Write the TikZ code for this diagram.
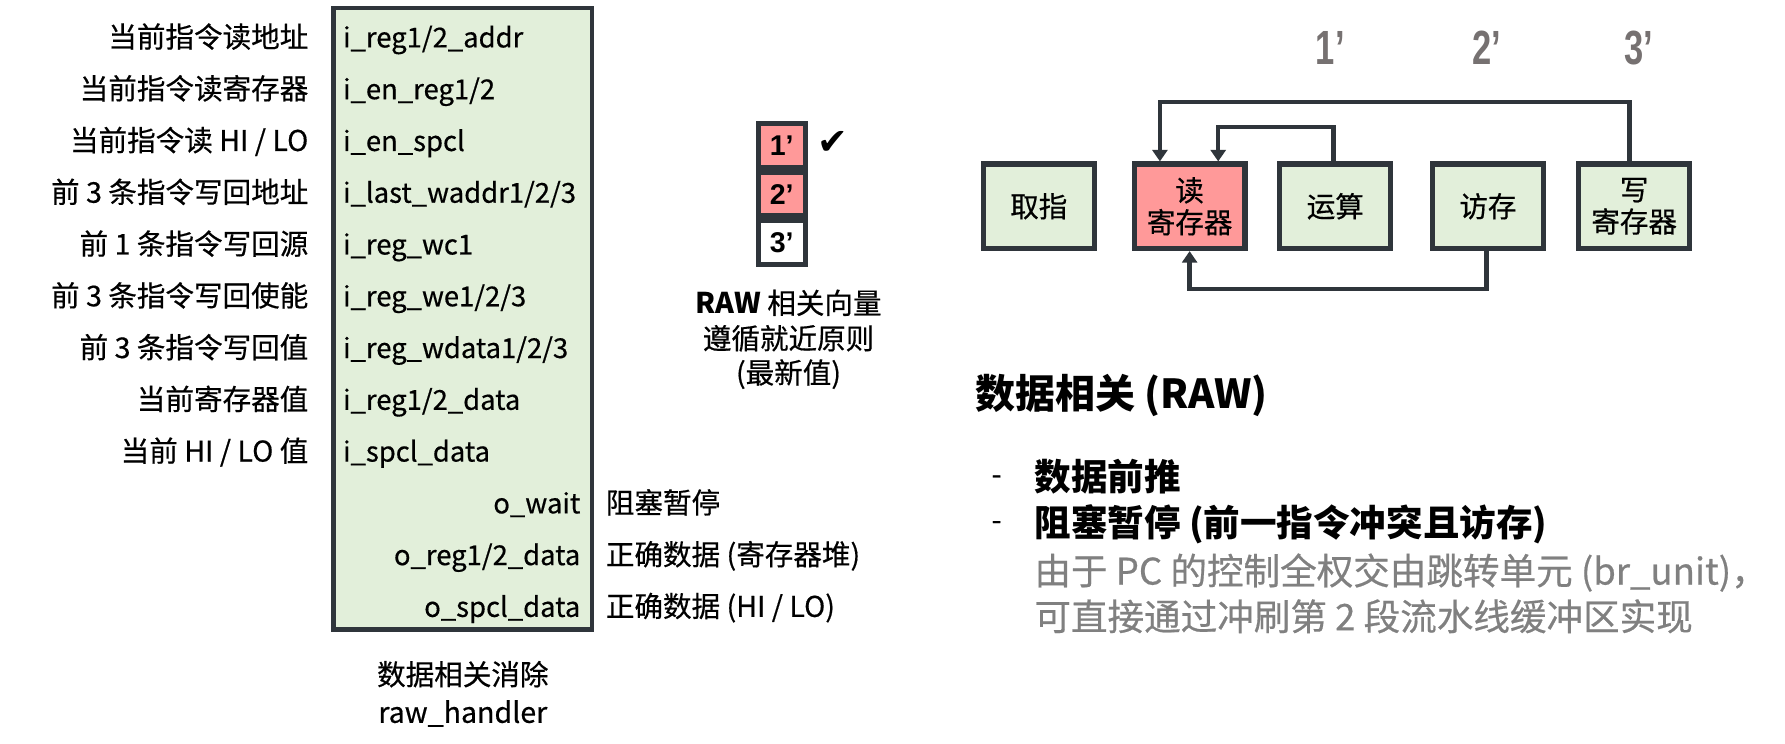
\documentclass[tikz,border=0pt]{standalone}
\usepackage{fontspec}
\usepackage{graphicx}
\setmainfont{Noto Sans CJK SC}[UprightFeatures={FakeBold=0.5}]
\newfontfamily\symfont{DejaVu Sans}
\newfontfamily\latfont{Liberation Sans}
\usetikzlibrary{arrows.meta}
\definecolor{edgec}{RGB}{47,53,59}
\definecolor{lgreen}{RGB}{226,239,218}
\definecolor{pinkc}{RGB}{255,153,153}
\definecolor{graytxt}{RGB}{128,128,128}
\definecolor{primec}{RGB}{118,113,113}
\newcommand\fsz[2]{\fontsize{#1}{#2}\selectfont}
\newcommand\pr[1]{{\latfont\bfseries #1’}}
\tikzset{
  lab/.style={inner sep=0pt, font=\fsz{25}{30}, text height=22pt, text depth=3pt},
  labr/.style={lab, anchor=east},
  labl/.style={lab, anchor=west},
  port/.style={lab, font=\fsz{24}{30}},
  portl/.style={port, anchor=west},
  portr/.style={port, anchor=east},
  cell/.style={draw=edgec, line width=4.5pt, minimum width=41pt, minimum height=38pt, inner sep=0pt, font=\fsz{25}{28}},
  stage/.style={draw=edgec, line width=4.5pt, fill=lgreen, minimum width=97pt, minimum height=74pt, inner sep=0pt, align=center, font=\fsz{25}{28}},
  prime/.style={inner sep=0pt, text=primec, font=\fsz{42}{44}},
  arr/.style={draw=edgec, line width=4pt, -{Triangle[length=10pt,width=13pt]}},
  item/.style={anchor=west, inner sep=0pt, font=\bfseries\fsz{32}{36}, text height=27pt, text depth=4pt},
  gitem/.style={item, font=\fsz{32}{36}, text=graytxt},
}
\begin{document}
\begin{tikzpicture}[x=1pt,y=-1pt]
\useasboundingbox (0,0) rectangle (1562,650.2);
% main module box
\node (hb) [draw=edgec, line width=4pt, fill=lgreen, minimum width=226pt, minimum height=544pt, inner sep=0pt] at (405,279) {};
% left labels
\node (l1) [labr] at (270,32.0) {当前指令读地址};
\node (l2) [labr] at (270,77.3) {当前指令读寄存器};
\node (l3) [labr] at (270,122.6) {当前指令读 HI / LO};
\node (l4) [labr] at (270,167.9) {前 3 条指令写回地址};
\node (l5) [labr] at (270,213.2) {前 1 条指令写回源};
\node (l6) [labr] at (270,258.5) {前 3 条指令写回使能};
\node (l7) [labr] at (270,303.8) {前 3 条指令写回值};
\node (l8) [labr] at (270,349.1) {当前寄存器值};
\node (l9) [labr] at (270,394.4) {当前 HI / LO 值};
% port names
\node (p1) [portl] at (300,32.0) {i\_reg1/2\_addr};
\node (p2) [portl] at (300,77.3) {i\_en\_reg1/2};
\node (p3) [portl] at (300,122.6) {i\_en\_spcl};
\node (p4) [portl] at (300,167.9) {i\_last\_waddr1/2/3};
\node (p5) [portl] at (300,213.2) {i\_reg\_wc1};
\node (p6) [portl] at (300,258.5) {i\_reg\_we1/2/3};
\node (p7) [portl] at (300,303.8) {i\_reg\_wdata1/2/3};
\node (p8) [portl] at (300,349.1) {i\_reg1/2\_data};
\node (p9) [portl] at (300,394.4) {i\_spcl\_data};
\node (o1) [portr] at (508,439.7) {o\_wait};
\node (o2) [portr] at (508,485.0) {o\_reg1/2\_data};
\node (o3) [portr] at (508,530.3) {o\_spcl\_data};
\node (r1) [labl] at (530,439.7) {阻塞暂停};
\node (r2) [labl] at (530,485.0) {正确数据 (寄存器堆)};
\node (r3) [labl] at (530,530.3) {正确数据 (HI / LO)};
\node (cap1) [lab] at (405,590) {数据相关消除};
\node (cap2) [lab] at (405,623) {raw\_handler};
% RAW vector
\node (v1) [cell, fill=pinkc] at (684,127.3) {\pr{1}};
\node (v2) [cell, fill=pinkc] at (684,169.8) {\pr{2}};
\node (v3) [cell, fill=white] at (684,212.3) {\pr{3}};
\node (chk) [inner sep=0pt, font=\symfont\fsz{32}{34}] at (729,125) {✔};
\node (vt1) [lab] at (690,265) {\textbf{RAW} 相关向量};
\node (vt2) [lab] at (690,296) {遵循就近原则};
\node (vt3) [lab] at (690,326) {(最新值)};
% pipeline
\node (if) [stage] at (909,180.5) {取指};
\node (rd) [stage, fill=pinkc] at (1041,180.5) {读\\寄存器};
\node (ex) [stage] at (1168.5,180.5) {运算};
\node (mem) [stage] at (1302,180.5) {访存};
\node (wb) [stage] at (1430,180.5) {写\\寄存器};
\node (n1) [prime] at (1164,42) {\scalebox{0.72}[1]{\pr{1}}};
\node (n2) [prime] at (1301,42) {\scalebox{0.72}[1]{\pr{2}}};
\node (n3) [prime] at (1434,42) {\scalebox{0.72}[1]{\pr{3}}};
\draw[arr] ([xshift=-4pt]wb.north) -- ++(0,-52) -| ([xshift=-26pt]rd.north);
\draw[arr] ([xshift=-1.5pt]ex.north) -- ++(0,-30) -| ([xshift=25pt]rd.north);
\draw[arr] ([xshift=-1pt]mem.south) -- ++(0,33) -| (rd.south);
% text block
\node (h1) [anchor=west, inner sep=0pt, font=\bfseries\fsz{35}{40}, text height=30pt, text depth=5pt] at (853,345) {数据相关 (RAW)};
\node (d1) [inner sep=0pt, font=\fsz{25}{30}] at (872,420) {-};
\node (d2) [inner sep=0pt, font=\fsz{25}{30}] at (872,460) {-};
\node (b1) [item] at (905,418) {数据前推};
\node (b2) [item] at (905,458) {阻塞暂停 (前一指令冲突且访存)};
\node (b3) [gitem] at (905,500) {由于 PC 的控制全权交由跳转单元 (br\_unit)，};
\node (b4) [gitem] at (905,540) {可直接通过冲刷第 2 段流水线缓冲区实现};
\end{tikzpicture}
\end{document}
